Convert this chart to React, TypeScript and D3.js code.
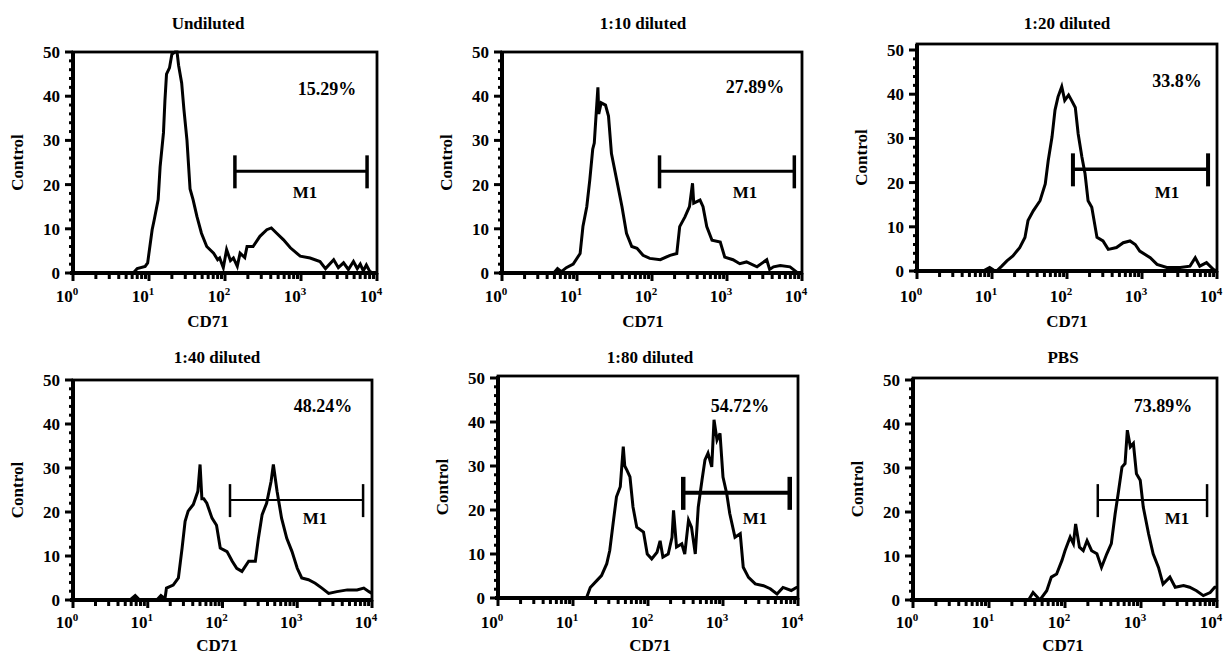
"use client";

import * as d3 from "d3";

type Pt = [number, number];

// panel titles and gated percentages
const titles = ["Undiluted", "1:10 diluted", "1:20 diluted", "1:40 diluted", "1:80 diluted", "PBS"];
const positives = ["15.29%", "27.89%", "33.8%", "48.24%", "54.72%", "73.89%"];

// M1 marker: [from CD71, to CD71, at count]
const gates: [number, number, number][] = [
  [135, 7400, 23],
  [126, 7900, 23],
  [120, 7600, 23],
  [126, 7600, 22.7],
  [295, 7760, 23.9],
  [270, 7400, 22.7],
];

// histograms: [CD71 intensity, count]
const undiluted: Pt[] = [
  [1, 0], [6.2, 0], [7, 1], [8.9, 1.5], [9.6, 2.3], [11, 9.8], [11.7, 12], [13.2, 16.6], [14, 24],
  [15.5, 31.7], [16.2, 39], [17, 45], [18.6, 46.4], [20, 49.5], [22, 50], [23.4, 50], [24.5, 47],
  [26.9, 43], [28.8, 37], [31.6, 30], [34.7, 19], [38, 16.6], [42.7, 12.8], [49, 9], [57.5, 6],
  [70.8, 4.5], [80, 3], [85.1, 3.4], [95, 1.2], [105, 5.3], [118, 2.8], [129, 3.4], [145, 1.5],
  [158, 4.5], [182, 3.5], [195, 6], [234, 6], [288, 8.3], [355, 9.8], [407, 10.2], [479, 9],
  [589, 7.5], [724, 5.7], [977, 3.8], [1318, 3.4], [1778, 2.6], [2100, 1], [2692, 3], [3100, 1.2],
  [3631, 2.3], [4200, 0.8], [4898, 2.6], [5500, 1], [6026, 2], [6600, 0.5], [7244, 1.8], [8000, 0.4],
  [8913, 0], [10000, 0],
];

const diluted10: Pt[] = [
  [1, 0], [4.9, 0], [5.5, 1], [6.2, 0.3], [7.2, 1.2], [8.9, 2], [11, 4.4], [12, 10.5], [13.5, 15],
  [14.8, 21], [16.2, 28], [17, 29.4], [17.8, 34.7], [19, 42], [19.5, 36], [21, 38.5], [24, 38],
  [26.3, 35.5], [28.8, 27], [33.9, 21], [39.8, 15], [45.7, 9], [53.7, 6], [63.1, 5.6], [75.9, 4],
  [93.3, 3.3], [129, 3], [174, 4], [214, 4.4], [234, 10.5], [275, 12.7], [316, 15], [347, 20.3],
  [360, 15.8], [437, 16.5], [479, 15], [537, 10.5], [631, 7.4], [813, 7], [933, 3.6], [1202, 3],
  [1479, 2.1], [1820, 2.5], [2512, 1.4], [3388, 3], [3700, 0.8], [4169, 1.4], [5129, 1.7],
  [6918, 1.4], [8511, 0.2], [10000, 0],
];

const diluted20: Pt[] = [
  [1, 0], [7.6, 0], [9.3, 0.8], [10.5, 0.2], [11.5, 0], [13.5, 1.1], [15.8, 2.3], [19, 3.4],
  [23.4, 5.3], [27.5, 7.6], [30.2, 11.4], [35.5, 13.6], [43.7, 15.9], [51.3, 19.7], [56.2, 25],
  [63.1, 30.3], [69.2, 36.4], [75.9, 39.4], [85.1, 41.7], [93.3, 38.6], [105, 39.8], [115, 38.6],
  [129, 37], [141, 31], [158, 25.8], [174, 22], [191, 15.9], [214, 14.4], [251, 7.6], [302, 6.8],
  [355, 4.9], [457, 5.3], [562, 6.4], [692, 6.8], [813, 6], [933, 4.5], [1288, 3], [1585, 1.5],
  [2138, 0.8], [3236, 0.8], [4365, 1.1], [5129, 3], [5888, 1.1], [7244, 1.9], [8913, 0.4], [10000, 0],
];

const diluted40: Pt[] = [
  [1, 0], [5.8, 0], [6.8, 1], [7.8, 0], [13.2, 0], [15, 1], [17, 0.3], [17.8, 2.7], [21.9, 3.4],
  [25.7, 5], [28.8, 11.8], [31.6, 17.9], [34.7, 20.2], [40.7, 21.7], [46.8, 24.7], [50.1, 30.8],
  [53, 23], [56.2, 23], [61.7, 22], [72.4, 18.6], [83.2, 17], [93.3, 11.8], [115, 11], [135, 8.8],
  [155, 7.2], [182, 6.5], [224, 8.8], [275, 8.8], [302, 14], [339, 19.4], [389, 22], [447, 27],
  [479, 30.8], [537, 24.7], [617, 18.6], [724, 14], [851, 11], [1000, 7.2], [1148, 5], [1413, 4.6],
  [1738, 3.8], [2138, 2.7], [2630, 1.5], [3388, 1.9], [4677, 2.3], [6310, 2.3], [7762, 2.7],
  [9120, 1.9], [10000, 1.5],
];

const diluted80: Pt[] = [
  [1, 0], [15.1, 0], [17, 2.4], [20.9, 4], [24, 5.1], [28.2, 7.8], [30.9, 10.8], [34.7, 17.7],
  [38, 23], [42.7, 25.3], [46.8, 34.4], [49, 30], [52.5, 29], [57.5, 27.5], [63.1, 20.7],
  [70.8, 16.1], [87.1, 15], [97.7, 10], [112, 8.9], [132, 10.4], [145, 13], [158, 9.3], [186, 10],
  [209, 13.8], [219, 19.9], [240, 11.6], [282, 12.3], [309, 10], [347, 17.7], [380, 16.1],
  [427, 10], [468, 20.7], [525, 26.8], [575, 31.4], [631, 32.9], [708, 29.8], [759, 40.5],
  [832, 35.9], [912, 37.4], [1000, 27.5], [1122, 23.7], [1230, 19.2], [1445, 13.8], [1698, 14.6],
  [1862, 7], [2188, 4.7], [2692, 3.2], [3467, 2.8], [4266, 2.1], [5248, 0.9], [6310, 2.4],
  [8128, 1.7], [9550, 2.4], [10000, 2.4],
];

const pbs: Pt[] = [
  [1, 0], [33.1, 0], [38, 1.7], [46.8, 0], [57.5, 2.1], [66.1, 5.2], [77.6, 5.9], [91.2, 9],
  [100, 11.2], [117, 14.3], [129, 12.8], [138, 17.3], [155, 12], [174, 11.2], [195, 13.5],
  [224, 11.2], [263, 10.5], [302, 7.4], [355, 10.5], [407, 12.8], [457, 19.6], [501, 24.2],
  [562, 30.2], [617, 31], [661, 38.6], [724, 34.8], [794, 35.6], [871, 28.7], [977, 27.2],
  [1072, 21.1], [1259, 15], [1445, 10.5], [1698, 7.4], [1950, 3.6], [2399, 5.2], [2818, 2.9],
  [3631, 3.3], [4365, 2.9], [5370, 2.1], [6607, 1], [8128, 1.7], [9333, 2.9], [10000, 2.9],
];

const histograms = [undiluted, diluted10, diluted20, diluted40, diluted80, pbs];

const countTicks = [0, 10, 20, 30, 40, 50];
const decades = [0, 1, 2, 3, 4];

const panels = [
  { x0: 73, x1: 377, top: 52, y50: 52, y0: 273, titleX: 208, pctX: 327, pctY: 95, mX: 305, mY: 198, gw: 3 },
  { x0: 502, x1: 802, top: 52, y50: 52, y0: 273, titleX: 643, pctX: 755, pctY: 93, mX: 745, mY: 198, gw: 3 },
  { x0: 917, x1: 1217, top: 44, y50: 50, y0: 271, titleX: 1067, pctX: 1177, pctY: 87, mX: 1167, mY: 198, gw: 3.5 },
  { x0: 73, x1: 372, top: 380, y50: 380, y0: 600, titleX: 217, pctX: 323, pctY: 412, mX: 315, mY: 524, gw: 2 },
  { x0: 498, x1: 798, top: 376, y50: 378, y0: 598, titleX: 650, pctX: 740, pctY: 412, mX: 755, mY: 524, gw: 4 },
  { x0: 913, x1: 1217, top: 378, y50: 380, y0: 600, titleX: 1063, pctX: 1163, pctY: 412, mX: 1177, mY: 524, gw: 2 },
];

const FONT = "'Liberation Serif', 'Times New Roman', serif";

function Panel({ i }: { i: number }) {
  const p = panels[i];
  const upper = i < 3;
  const titleY = upper ? 29 : 363;
  const tickY = upper ? 302 : 628;
  const labelY = upper ? 327 : 651;

  const x = d3.scaleLog().domain([1, 1e4]).range([p.x0, p.x1]);
  const y = d3.scaleLinear().domain([0, 50]).range([p.y0, p.y50]);
  const line = d3.line<Pt>().x(d => x(d[0])).y(d => y(d[1]));
  const [g0, g1, gc] = gates[i];

  return (
    <g fontFamily={FONT} fontWeight="bold" fill="#000">
      <text x={p.titleX} y={titleY} textAnchor="middle" fontSize={17}>{titles[i]}</text>

      {/* frame */}
      <rect x={p.x0} y={p.top} width={p.x1 - p.x0} height={p.y0 - p.top} fill="none" stroke="#000" strokeWidth={2.8} />
      <line x1={p.x0} x2={p.x0} y1={p.top} y2={p.y0 + 2} stroke="#000" strokeWidth={4} />
      <line x1={p.x0 - 3} x2={p.x1 + 1} y1={p.y0} y2={p.y0} stroke="#000" strokeWidth={4} />

      {/* y axis */}
      {d3.range(0, 51, 2).map(t => (
        <line key={t} x1={p.x0} x2={p.x0 - (t % 10 === 0 ? 8 : 4)} y1={y(t)} y2={y(t)} stroke="#000" strokeWidth={3} />
      ))}
      {countTicks.map(t => (
        <text key={t} x={p.x0 - 13} y={y(t)} dy="0.35em" textAnchor="end" fontSize={17}>{t}</text>
      ))}
      <text transform={`translate(${p.x0 - 50},${(p.top + p.y0) / 2}) rotate(-90)`} textAnchor="middle" fontSize={17}>
        Control
      </text>

      {/* x axis */}
      {x.ticks().map(t => {
        const major = Number.isInteger(Math.log10(t));
        return (
          <line key={t} x1={x(t)} x2={x(t)} y1={p.y0} y2={p.y0 + (major ? 8 : 6)} stroke="#000" strokeWidth={3} />
        );
      })}
      {decades.map(k => (
        <text key={k} x={x(Math.pow(10, k)) - 6} y={tickY} textAnchor="middle" fontSize={17}>
          10<tspan dy={-7} fontSize={11}>{k}</tspan>
        </text>
      ))}
      <text x={p.titleX} y={labelY} textAnchor="middle" fontSize={17}>CD71</text>

      {/* histogram */}
      <path d={line(histograms[i]) ?? ""} fill="none" stroke="#000" strokeWidth={3} strokeLinejoin="miter" />

      {/* M1 marker */}
      <line x1={x(g0)} x2={x(g1)} y1={y(gc)} y2={y(gc)} stroke="#000" strokeWidth={p.gw} />
      <line x1={x(g0)} x2={x(g0)} y1={y(gc) - 16} y2={y(gc) + 17} stroke="#000" strokeWidth={p.gw + 0.5} />
      <line x1={x(g1)} x2={x(g1)} y1={y(gc) - 16} y2={y(gc) + 17} stroke="#000" strokeWidth={p.gw + 0.5} />
      <text x={p.mX} y={p.mY} textAnchor="middle" fontSize={17}>M1</text>

      <text x={p.pctX} y={p.pctY} textAnchor="middle" fontSize={18}>{positives[i]}</text>
    </g>
  );
}

export default function App() {
  return (
    <svg
      width={1228}
      height={656}
      style={{ position: "absolute", left: 0, top: 0, background: "#fff" }}
    >
      {titles.map((_, i) => <Panel key={i} i={i} />)}
    </svg>
  );
}
